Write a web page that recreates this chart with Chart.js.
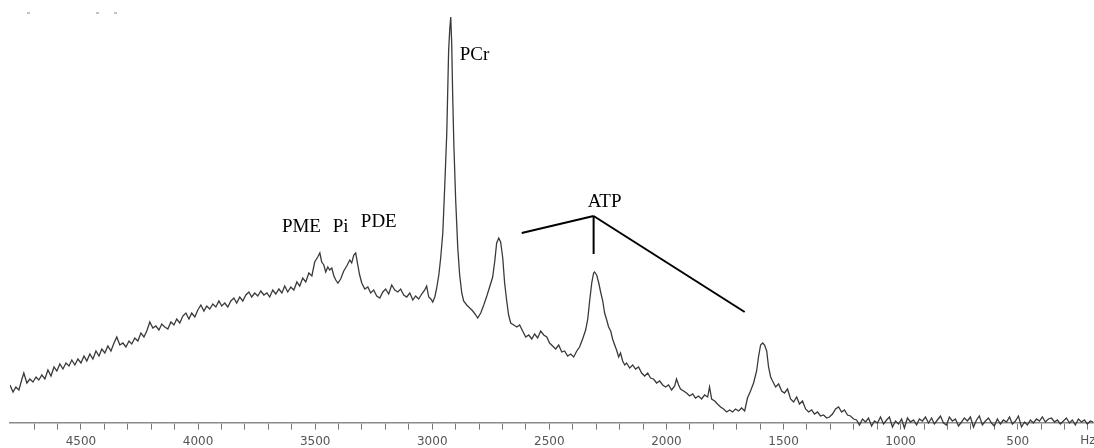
<!DOCTYPE html>
<html>
<head>
<meta charset="utf-8">
<script src="https://cdn.jsdelivr.net/npm/chart.js@4/dist/chart.umd.min.js"></script>
<style>
  html, body { margin: 0; padding: 0; background: #fff; }
  #wrap { width: 1094px; height: 448px; position: relative; }
</style>
</head>
<body>
<div id="wrap"><canvas id="spectrumChart"></canvas></div>
<script>
// frequency (Hz)
const hz = [
  4803, 4790, 4778, 4765, 4752, 4744, 4731, 4718, 4705, 4692,
  4680, 4667, 4654, 4641, 4628, 4615, 4603, 4590, 4577, 4564,
  4551, 4539, 4526, 4513, 4500, 4487, 4475, 4462, 4449, 4436,
  4423, 4411, 4398, 4385, 4372, 4359, 4347, 4334, 4321, 4308,
  4295, 4283, 4270, 4257, 4244, 4231, 4219, 4206, 4193, 4180,
  4167, 4155, 4142, 4129, 4116, 4103, 4091, 4078, 4065, 4052,
  4039, 4027, 4014, 4001, 3988, 3975, 3963, 3950, 3937, 3924,
  3911, 3899, 3886, 3873, 3860, 3847, 3835, 3822, 3809, 3796,
  3783, 3771, 3758, 3745, 3732, 3719, 3706, 3694, 3681, 3668,
  3655, 3642, 3630, 3617, 3604, 3591, 3578, 3566, 3553, 3540,
  3527, 3514, 3502, 3489, 3480, 3472, 3463, 3455, 3446, 3438,
  3429, 3420, 3412, 3403, 3391, 3378, 3365, 3352, 3344, 3335,
  3327, 3318, 3310, 3301, 3288, 3275, 3263, 3250, 3237, 3224,
  3211, 3199, 3186, 3173, 3160, 3147, 3135, 3122, 3109, 3096,
  3083, 3071, 3058, 3045, 3032, 3024, 3015, 3006, 2998, 2989,
  2981, 2972, 2964, 2955, 2947, 2938, 2930, 2925, 2921, 2917,
  2913, 2908, 2900, 2891, 2883, 2874, 2866, 2853, 2840, 2827,
  2814, 2806, 2793, 2780, 2767, 2755, 2742, 2733, 2725, 2716,
  2708, 2699, 2691, 2682, 2674, 2665, 2652, 2639, 2627, 2614,
  2601, 2588, 2575, 2563, 2550, 2537, 2524, 2511, 2499, 2486,
  2473, 2460, 2447, 2435, 2422, 2409, 2396, 2383, 2371, 2358,
  2345, 2336, 2328, 2319, 2311, 2307, 2298, 2289, 2281, 2272,
  2264, 2255, 2247, 2238, 2230, 2221, 2213, 2204, 2196, 2187,
  2178, 2170, 2157, 2144, 2132, 2119, 2106, 2093, 2080, 2068,
  2055, 2042, 2029, 2016, 2004, 1991, 1978, 1965, 1957, 1948,
  1940, 1927, 1914, 1901, 1888, 1876, 1863, 1850, 1837, 1824,
  1816, 1807, 1794, 1782, 1769, 1756, 1743, 1730, 1718, 1705,
  1692, 1679, 1666, 1654, 1641, 1628, 1615, 1607, 1598, 1589,
  1581, 1572, 1564, 1555, 1547, 1534, 1521, 1508, 1496, 1483,
  1470, 1457, 1444, 1432, 1419, 1406, 1393, 1380, 1368, 1355,
  1342, 1329, 1316, 1304, 1291, 1278, 1265, 1252, 1240, 1227,
  1214, 1201, 1188, 1176, 1163, 1150, 1137, 1124, 1112, 1099,
  1086, 1073, 1060, 1048, 1035, 1022, 1009, 996, 984, 971,
  958, 945, 932, 920, 907, 894, 881, 868, 856, 843,
  830, 817, 804, 792, 779, 766, 753, 740, 728, 715,
  702, 689, 676, 664, 651, 638, 625, 612, 600, 587,
  574, 561, 548, 535, 523, 510, 497, 484, 471, 459,
  446, 433, 420, 407, 395, 382, 369, 356, 343, 331,
  318, 305, 292, 279, 267, 254, 241, 228, 215, 203,
  190, 177
];

// signal intensity (arbitrary units)
const signal = [
  38, 31, 36, 33, 44, 50, 40, 44, 41, 46,
  43, 48, 44, 53, 47, 56, 52, 59, 54, 60,
  57, 63, 58, 64, 60, 67, 62, 69, 64, 72,
  67, 74, 70, 77, 72, 80, 86, 78, 80, 76,
  82, 79, 85, 82, 90, 86, 92, 101, 95, 97,
  93, 99, 96, 94, 101, 98, 104, 100, 107, 110,
  104, 110, 106, 113, 118, 112, 117, 114, 119, 116,
  122, 117, 120, 116, 122, 125, 120, 126, 122, 128,
  131, 126, 130, 127, 132, 128, 130, 126, 133, 129,
  134, 130, 137, 131, 136, 133, 141, 137, 145, 141,
  150, 147, 161, 166, 170, 161, 158, 151, 156, 153,
  155, 147, 143, 140, 144, 152, 157, 163, 160, 168,
  170, 158, 148, 140, 134, 136, 130, 133, 127, 125,
  131, 134, 129, 138, 133, 131, 134, 128, 126, 130,
  123, 127, 124, 129, 133, 137, 126, 124, 121, 126,
  135, 148, 165, 190, 235, 290, 373, 395, 406, 380,
  330, 280, 223, 175, 148, 130, 122, 118, 115, 112,
  108, 105, 110, 118, 127, 136, 146, 162, 180, 185,
  181, 165, 140, 122, 108, 100, 98, 96, 98, 92,
  86, 88, 84, 89, 85, 92, 88, 86, 80, 77,
  74, 78, 71, 72, 67, 69, 66, 72, 76, 84,
  93, 104, 122, 140, 150, 151, 148, 140, 131, 122,
  110, 103, 96, 92, 84, 78, 73, 66, 70, 62,
  58, 60, 55, 58, 54, 56, 50, 47, 50, 45,
  44, 40, 42, 38, 36, 38, 33, 37, 44, 38,
  34, 32, 30, 27, 29, 25, 27, 24, 28, 26,
  36, 24, 22, 19, 16, 14, 11, 13, 11, 14,
  12, 15, 12, 25, 32, 40, 52, 66, 78, 80,
  78, 72, 56, 46, 42, 36, 39, 32, 30, 34,
  24, 21, 26, 19, 22, 14, 11, 13, 9, 11,
  7, 8, 5, 6, 9, 14, 16, 11, 13, 8,
  7, 4, 3, -2, 4, 1, 5, -3, 2, 0,
  6, -1, 3, 6, -4, 2, -1, 4, -5, 5,
  1, 3, -2, 4, 2, 6, 0, 5, -1, 3,
  7, 0, -2, 6, 2, 4, -3, 1, 5, 2,
  6, -4, 3, 7, -2, 2, 5, 0, -3, 4,
  -1, 3, 1, 6, -1, 2, 7, -4, 1, -2,
  3, 0, 4, 2, 6, 1, 4, 5, 1, 3,
  -1, 2, 5, 0, 3, -2, 4, 1, 3, -1,
  2, 1
];

// axis ticks every 100 Hz, labels every 500 Hz
const tickValues = [
  4700, 4600, 4500, 4400, 4300, 4200, 4100, 4000, 3900, 3800,
  3700, 3600, 3500, 3400, 3300, 3200, 3100, 3000, 2900, 2800,
  2700, 2600, 2500, 2400, 2300, 2200, 2100, 2000, 1900, 1800,
  1700, 1600, 1500, 1400, 1300, 1200, 1100, 1000, 900, 800,
  700, 600, 500, 400, 300, 200
];
const tickLabels = ['4500', '4000', '3500', '3000', '2500', '2000', '1500', '1000', '500'];
const unitLabel = 'Hz';

// peak names and where they sit (Hz, intensity)
const peakNames = ['PME', 'Pi', 'PDE', 'PCr', 'ATP'];
const peakHz = [3642, 3425, 3305, 2883, 2336];
const peakY = [191, 191, 196, 363, 216];

// ATP bracket: apex, left arm, stem, right arm
const atpApex = { x: 2311, y: 207 };
const atpArms = [{ x: 2618, y: 190 }, { x: 2311, y: 169 }, { x: 1666, y: 111 }];

const points = hz.map((h, i) => ({ x: h, y: signal[i] }));

const annotate = {
  id: 'annotate',
  afterDatasetsDraw(chart) {
    const { ctx, scales: { x, y } } = chart;
    ctx.save();
    // faint specks at top left of the scan
    ctx.fillStyle = '#c4c4c4';
    ctx.fillRect(27, 12, 3, 2);
    ctx.fillRect(96, 12, 3, 2);
    ctx.fillRect(114, 12, 3, 2);

    // unit at the end of the axis
    ctx.fillStyle = '#555';
    ctx.font = '12px "DejaVu Sans"';
    ctx.textAlign = 'center';
    ctx.textBaseline = 'middle';
    ctx.fillText(unitLabel, x.getPixelForValue(200), 441);

    ctx.fillStyle = '#000';
    ctx.font = '19px "Liberation Serif", "Times New Roman", serif';
    ctx.textAlign = 'left';
    ctx.textBaseline = 'alphabetic';
    peakNames.forEach((name, i) => {
      ctx.fillText(name, x.getPixelForValue(peakHz[i]), y.getPixelForValue(peakY[i]));
    });

    ctx.strokeStyle = '#000';
    ctx.lineWidth = 2;
    ctx.lineCap = 'butt';
    const ax = x.getPixelForValue(atpApex.x);
    const ay = y.getPixelForValue(atpApex.y);
    atpArms.forEach(p => {
      ctx.beginPath();
      ctx.moveTo(ax, ay);
      ctx.lineTo(x.getPixelForValue(p.x), y.getPixelForValue(p.y));
      ctx.stroke();
    });
    ctx.restore();
  }
};

document.addEventListener('DOMContentLoaded', function() {
    const ctx = document.querySelector('#spectrumChart').getContext('2d');
    new Chart(ctx, {
        type: 'line',
        data: {
            datasets: [{
                data: points,
                borderColor: '#3a3a3a',
                borderWidth: 1.3,
                pointRadius: 0,
                fill: false,
                tension: 0
            }]
        },
        options: {
            responsive: true,
            maintainAspectRatio: false,
            animation: false,
            layout: { padding: { left: 10, right: 0, top: 10, bottom: 8 } },
            plugins: {
                legend: { display: false },
                tooltip: { enabled: false }
            },
            scales: {
                x: {
                    type: 'linear',
                    reverse: true,
                    min: 177,
                    max: 4803,
                    position: { y: 0 },
                    afterBuildTicks: (scale) => {
                        scale.ticks = tickValues.map(v => ({ value: v }));
                    },
                    border: { display: true, color: '#8a8a8a', width: 1.6 },
                    grid: {
                        drawOnChartArea: false,
                        drawTicks: true,
                        tickLength: 6,
                        color: '#777'
                    },
                    ticks: {
                        autoSkip: false,
                        maxRotation: 0,
                        padding: 6,
                        color: '#555',
                        font: { family: 'DejaVu Sans', size: 12 },
                        callback: (v) => {
                            const s = String(v);
                            return tickLabels.includes(s) ? s : '';
                        }
                    }
                },
                y: {
                    display: false,
                    min: -17,
                    max: 413
                }
            }
        },
        plugins: [annotate]
    });
});
</script>
</body>
</html>
